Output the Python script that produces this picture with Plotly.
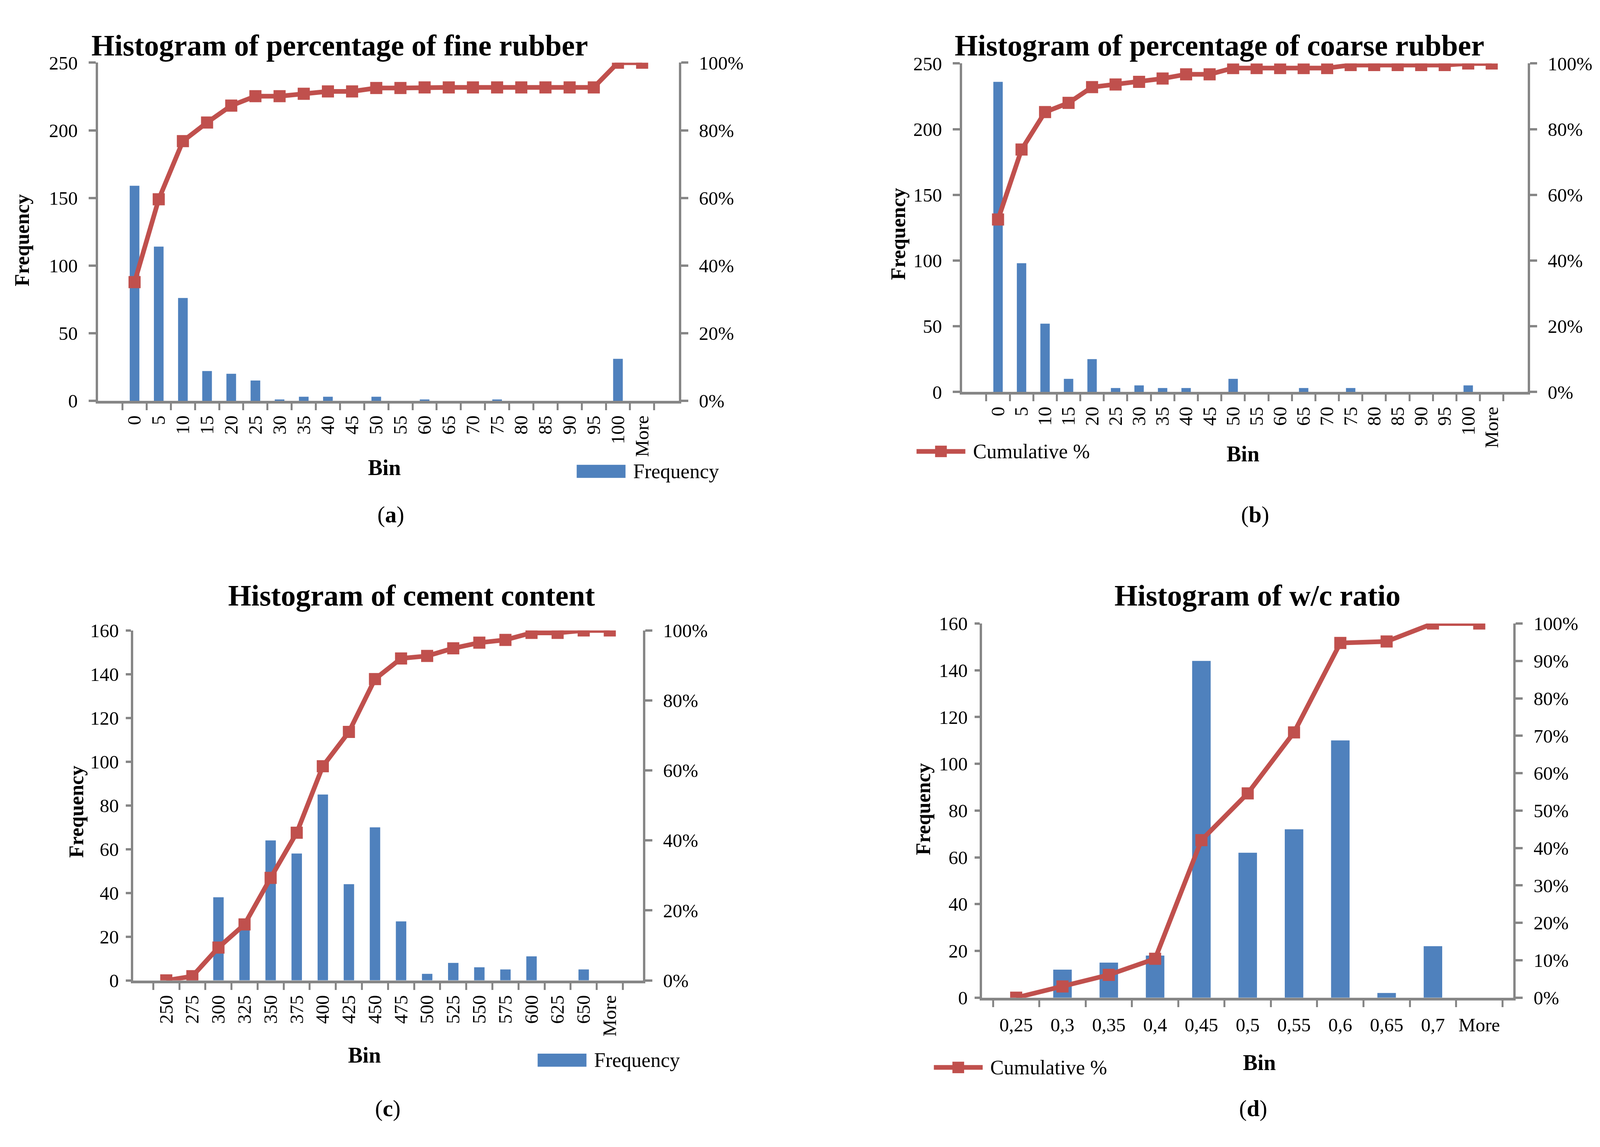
import plotly.graph_objects as go

# Reference-image coordinate system (all positions below are given in it)
RW, RH = 5080, 2936
# Actual browser viewport reported by the page (innerWidth x innerHeight)
FW, FH = 4096, 2936
SX = FW / RW          # horizontal squeeze of the viewport vs the reference
FS = 0.9              # font scale compromise between horizontal and vertical scale

# ---------------- data ----------------
fine_bins = ['0', '5', '10', '15', '20', '25', '30', '35', '40', '45', '50', '55', '60', '65',
             '70', '75', '80', '85', '90', '95', '100', 'More']
fine_freq = [159, 114, 76, 22, 20, 15, 1, 3, 3, 0, 3, 0, 1, 0, 0, 1, 0, 0, 0, 0, 31, 0]
fine_cum = [0.351, 0.596, 0.768, 0.823, 0.873, 0.901, 0.901, 0.908, 0.915, 0.915, 0.925, 0.925,
            0.927, 0.927, 0.927, 0.927, 0.927, 0.927, 0.927, 0.927, 1.0, 1.0]

coarse_bins = ['0', '5', '10', '15', '20', '25', '30', '35', '40', '45', '50', '55', '60', '65',
               '70', '75', '80', '85', '90', '95', '100', 'More']
coarse_freq = [236, 98, 52, 10, 25, 3, 5, 3, 3, 0, 10, 0, 0, 3, 0, 3, 0, 0, 0, 0, 5, 0]
coarse_cum = [0.525, 0.738, 0.852, 0.880, 0.928, 0.936, 0.944, 0.954, 0.967, 0.967, 0.986, 0.986,
              0.986, 0.986, 0.986, 0.995, 0.995, 0.995, 0.995, 0.995, 1.0, 1.0]

cement_bins = ['250', '275', '300', '325', '350', '375', '400', '425', '450', '475', '500',
               '525', '550', '575', '600', '625', '650', 'More']
cement_freq = [0, 4, 38, 27, 64, 58, 85, 44, 70, 27, 3, 8, 6, 5, 11, 0, 5, 0]
cement_cum = [0.0, 0.012, 0.094, 0.160, 0.293, 0.422, 0.612, 0.710, 0.861, 0.920, 0.927, 0.949,
              0.965, 0.973, 0.993, 0.993, 1.0, 1.0]

wc_bins = ['0,25', '0,3', '0,35', '0,4', '0,45', '0,5', '0,55', '0,6', '0,65', '0,7', 'More']
wc_freq = [0, 12, 15, 18, 144, 62, 72, 110, 2, 22, 0]
wc_cum = [0.0, 0.030, 0.061, 0.104, 0.421, 0.546, 0.709, 0.948, 0.952, 1.0, 1.0]

titles = ['Histogram of percentage of fine rubber', 'Histogram of percentage of coarse rubber',
          'Histogram of cement content', 'Histogram of w/c ratio']
captions = ['a', 'b', 'c', 'd']
legend_labels = ['Frequency', 'Cumulative %', 'Frequency', 'Cumulative %']

# ---------------- style ----------------
FONT = 'Liberation Serif'
BLUE = '#4F81BD'
RED = '#C0504D'
AXC = '#868686'
TICK = round(54 * FS)

# panel geometry in reference pixels: (left, right, top, bottom)
geo = [(311, 2155, 136, 1018), (3055, 4850, 138, 995),
       (423, 2041, 1617, 2530), (3118, 4805, 1599, 2575)]
title_pos = [(1079, 91), (3872, 91), (1306, 1526), (3992, 1526)]
ytitle_pos = [(71, 599), (2851, 583), (243, 2090), (2932, 2083)]
bin_pos = [(1221, 1192), (3946, 1157), (1157, 2725), (3998, 2744)]
cap_pos = [(1241, 1315), (3985, 1315), (1231, 2864), (3979, 2864)]
legend_pos = [(1831, 1202), (2910, 1150), (1707, 2738), (2965, 2757)]  # swatch start, centre y
legend_kind = ['bar', 'line', 'bar', 'line']
ystandoff = [22, 22, 10, 10]
yticklen = [22, 22, 16, 16]

panels = [(fine_bins, fine_freq, fine_cum, 250, 50, 0.2, -90),
          (coarse_bins, coarse_freq, coarse_cum, 250, 50, 0.2, -90),
          (cement_bins, cement_freq, cement_cum, 160, 20, 0.2, -90),
          (wc_bins, wc_freq, wc_cum, 160, 20, 0.1, 0)]

fig = go.Figure()
layout = dict(width=FW, height=FH, margin=dict(l=0, r=0, t=0, b=0),
              paper_bgcolor='white', plot_bgcolor='white', showlegend=False,
              font=dict(family=FONT, size=TICK, color='black'), bargap=0.6)
annotations = []
shapes = []


def px(x, y):
    return x / RW, 1 - y / RH


def hx(v):
    return max(1, round(v * SX))


for i, (bins, freq, cum, ymax, ydt, pdt, tang) in enumerate(panels):
    xa = 'x' if i == 0 else f'x{i + 1}'
    ya = f'y{2 * i + 1}' if i > 0 else 'y'
    yb = f'y{2 * i + 2}'
    xkey = 'xaxis' if i == 0 else f'xaxis{i + 1}'
    yakey = 'yaxis' if i == 0 else f'yaxis{2 * i + 1}'
    ybkey = f'yaxis{2 * i + 2}'
    L, R, T, B = geo[i]
    x0, _ = px(L, 0)
    x1, _ = px(R, 0)
    _, y1 = px(0, T)
    _, y0 = px(0, B)

    fig.add_trace(go.Bar(x=bins, y=freq, marker=dict(color=BLUE, line=dict(width=0)),
                         xaxis=xa, yaxis=ya, name='Frequency'))
    fig.add_trace(go.Scatter(x=bins, y=cum, mode='lines+markers', xaxis=xa, yaxis=yb,
                             line=dict(color=RED, width=12),
                             marker=dict(symbol='square', size=31, color=RED),
                             name='Cumulative %'))

    axis_common = dict(showline=True, linecolor=AXC, ticks='outside',
                       tickcolor=AXC, showgrid=False, zeroline=False,
                       tickfont=dict(family=FONT, size=TICK, color='black'))
    layout[xkey] = dict(axis_common, domain=[x0, x1], anchor=ya, type='category',
                        linewidth=7, tickwidth=hx(6),
                        tickson='boundaries', ticklen=17, tickangle=tang,
                        ticklabelstandoff=hx(14) if tang else 20)
    layout[yakey] = dict(axis_common, domain=[y0, y1], anchor=xa, range=[0, ymax],
                         linewidth=hx(7), tickwidth=6,
                         dtick=ydt, tick0=0, ticklen=hx(yticklen[i]),
                         ticklabelstandoff=hx(ystandoff[i]))
    layout[ybkey] = dict(axis_common, overlaying=ya, anchor=xa, side='right', range=[0, 1],
                         linewidth=hx(7), tickwidth=6,
                         dtick=pdt, tick0=0, tickformat='.0%', ticklen=hx(22),
                         ticklabelstandoff=hx(22))

    # legend key (swatch + label) in paper coordinates
    lx0, ly = legend_pos[i]
    sw = 155
    if legend_kind[i] == 'bar':
        a0, b0 = px(lx0, ly - 17)
        a1, b1 = px(lx0 + sw, ly + 17)
        shapes.append(dict(type='rect', xref='paper', yref='paper', x0=a0, x1=a1, y0=b1, y1=b0,
                           fillcolor=BLUE, line=dict(width=0)))
    else:
        a0, b0 = px(lx0, ly)
        a1, _ = px(lx0 + sw, ly)
        shapes.append(dict(type='line', xref='paper', yref='paper', x0=a0, x1=a1, y0=b0, y1=b0,
                           line=dict(color=RED, width=12)))
        half_w = 15 / SX
        m0, n0 = px(lx0 + sw / 2 - half_w, ly - 15)
        m1, n1 = px(lx0 + sw / 2 + half_w, ly + 15)
        shapes.append(dict(type='rect', xref='paper', yref='paper', x0=m0, x1=m1, y0=n1, y1=n0,
                           fillcolor=RED, line=dict(width=0)))
    tx0, ty0 = px(lx0 + sw + 22, ly)
    annotations.append(dict(x=tx0, y=ty0, xref='paper', yref='paper', text=legend_labels[i],
                            showarrow=False, xanchor='left', yanchor='middle',
                            font=dict(family=FONT, size=round(58 * FS), color='black')))

    tx, ty = px(*title_pos[i])
    annotations.append(dict(x=tx, y=ty, xref='paper', yref='paper', text=f'<b>{titles[i]}</b>',
                            showarrow=False, xanchor='center', yanchor='middle',
                            font=dict(family=FONT, size=round(84 * FS), color='black')))
    fx, fy = px(*ytitle_pos[i])
    annotations.append(dict(x=fx, y=fy, xref='paper', yref='paper', text='<b>Frequency</b>',
                            textangle=-90, showarrow=False, xanchor='center', yanchor='middle',
                            font=dict(family=FONT, size=round(58 * FS), color='black')))
    bx, by = px(*bin_pos[i])
    annotations.append(dict(x=bx, y=by, xref='paper', yref='paper', text='<b>Bin</b>',
                            showarrow=False, xanchor='center', yanchor='middle',
                            font=dict(family=FONT, size=round(62 * FS), color='black')))
    cx, cy = px(*cap_pos[i])
    annotations.append(dict(x=cx, y=cy, xref='paper', yref='paper',
                            text=f'(<b>{captions[i]}</b>)', showarrow=False,
                            xanchor='center', yanchor='middle',
                            font=dict(family=FONT, size=round(66 * FS), color='black')))

layout['annotations'] = annotations
layout['shapes'] = shapes
fig.update_layout(**layout)

# remove the page margin and, if the viewport is smaller than the figure, fit it in
fit_js = f"""
(function() {{
  var s = Math.min(window.innerWidth / {FW}, window.innerHeight / {FH});
  document.documentElement.style.margin = '0';
  document.body.style.margin = '0';
  document.body.style.overflow = 'hidden';
  if (s < 0.999) {{ document.body.style.zoom = s; }}
}})();
"""
fig.write_html('out.html', post_script=fit_js, config={'displayModeBar': False})
